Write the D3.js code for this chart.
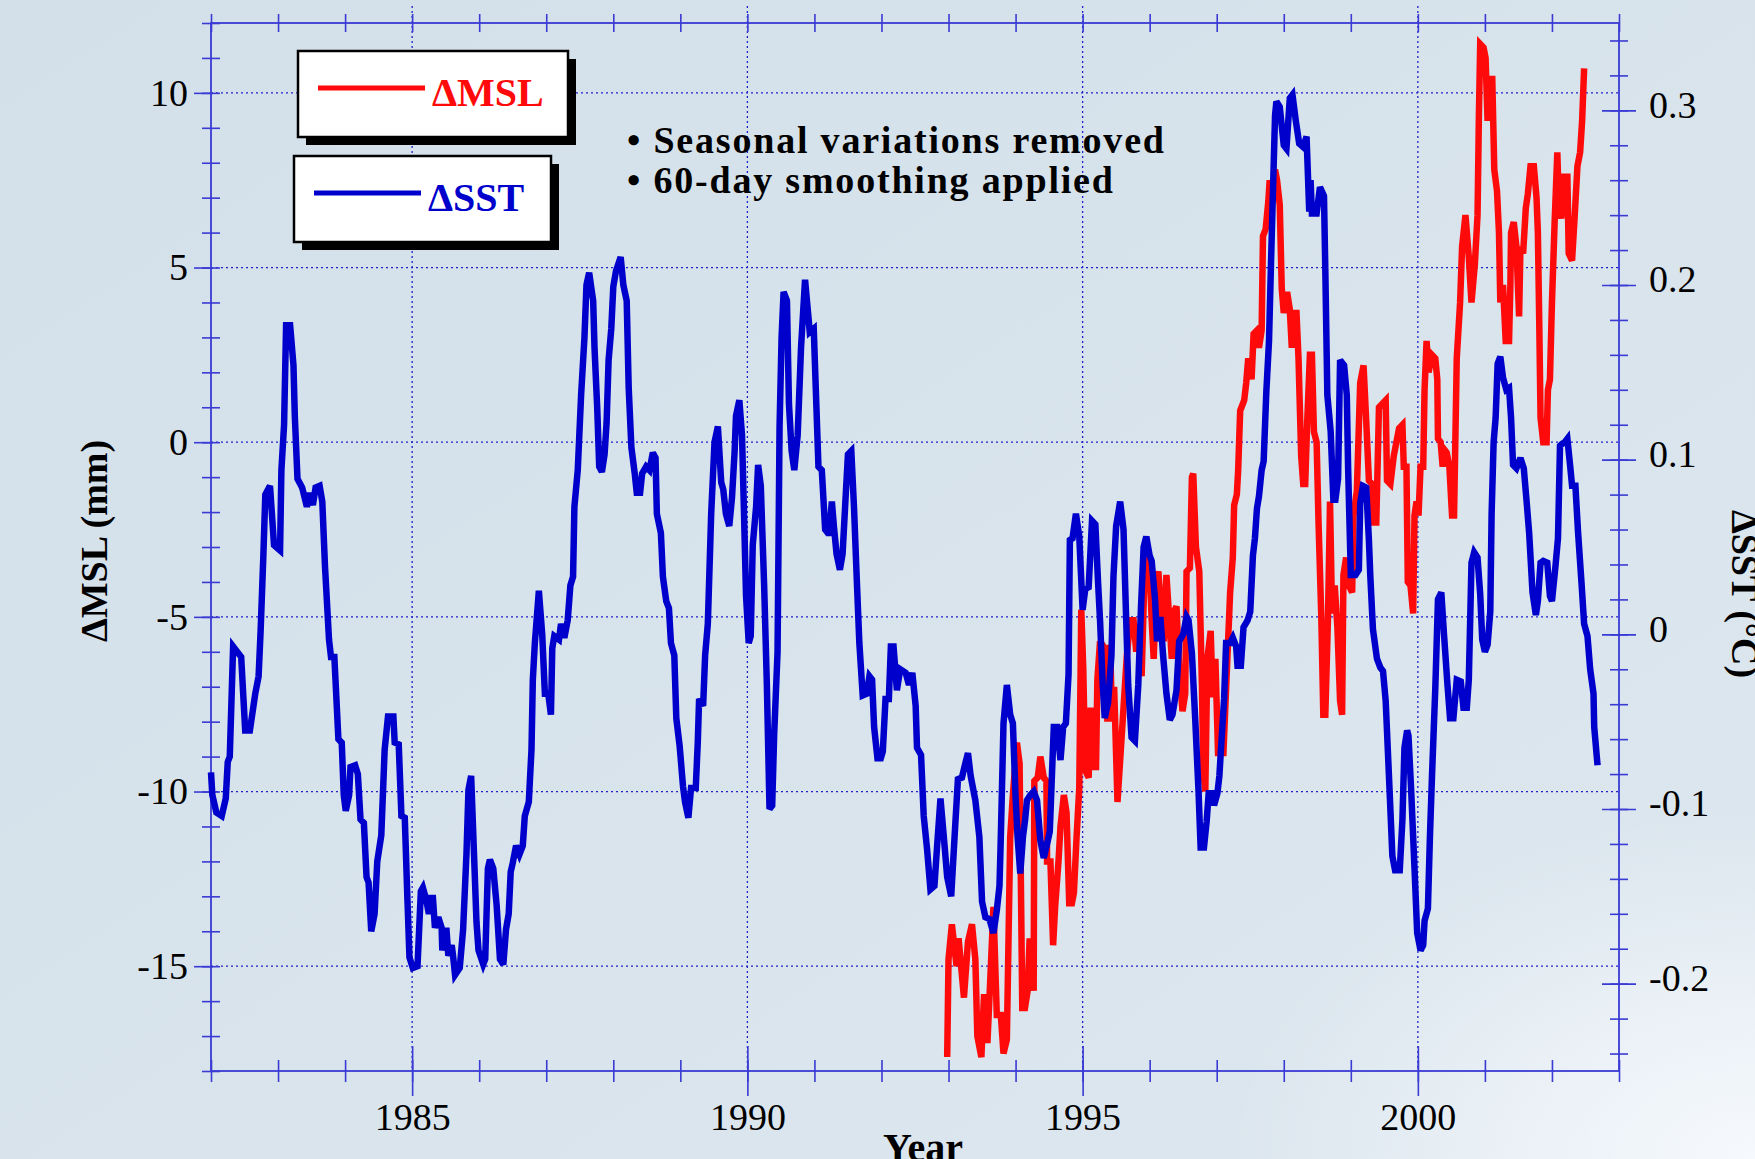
<!DOCTYPE html>
<html>
<head>
<meta charset="utf-8">
<script src="https://cdnjs.cloudflare.com/ajax/libs/d3/7.8.5/d3.min.js"></script>
<style>
	html, body { margin: 0; padding: 0; overflow: hidden; background: #d7e3eb; }
	svg { display: block; }
</style>
</head>
<body>
<div id="chart"></div>
<script>

// === Data === //

// ΔSST (°C), 60-day smoothed, seasonal cycle removed
var sstYear = [
	1982.00, 1982.02, 1982.08, 1982.16, 1982.22, 1982.25, 1982.28, 1982.33, 1982.41, 1982.45,
	1982.51, 1982.58, 1982.66, 1982.71, 1982.74, 1982.78, 1982.81, 1982.88, 1982.94, 1983.03,
	1983.05, 1983.09, 1983.12, 1983.18, 1983.23, 1983.25, 1983.29, 1983.36, 1983.43, 1983.47,
	1983.52, 1983.56, 1983.62, 1983.66, 1983.70, 1983.76, 1983.79, 1983.84, 1983.90, 1983.95,
	1983.98, 1984.01, 1984.06, 1984.08, 1984.15, 1984.19, 1984.23, 1984.28, 1984.32, 1984.35,
	1984.39, 1984.44, 1984.48, 1984.54, 1984.59, 1984.64, 1984.72, 1984.74, 1984.80, 1984.84,
	1984.89, 1984.93, 1984.96, 1985.01, 1985.08, 1985.13, 1985.16, 1985.21, 1985.25, 1985.28,
	1985.31, 1985.34, 1985.39, 1985.44, 1985.45, 1985.51, 1985.54, 1985.59, 1985.61, 1985.64,
	1985.71, 1985.76, 1985.81, 1985.84, 1985.88, 1985.92, 1985.96, 1985.99, 1986.06, 1986.09,
	1986.13, 1986.16, 1986.21, 1986.26, 1986.31, 1986.36, 1986.40, 1986.44, 1986.47, 1986.50,
	1986.55, 1986.60, 1986.65, 1986.68, 1986.74, 1986.78, 1986.80, 1986.83, 1986.89, 1986.94,
	1986.98, 1987.03, 1987.07, 1987.09, 1987.12, 1987.19, 1987.22, 1987.27, 1987.32, 1987.36,
	1987.40, 1987.42, 1987.47, 1987.52, 1987.57, 1987.60, 1987.64, 1987.70, 1987.72, 1987.76,
	1987.79, 1987.83, 1987.87, 1987.90, 1987.93, 1987.97, 1988.00, 1988.04, 1988.11, 1988.15,
	1988.20, 1988.23, 1988.27, 1988.32, 1988.35, 1988.40, 1988.43, 1988.49, 1988.54, 1988.59,
	1988.63, 1988.65, 1988.71, 1988.74, 1988.79, 1988.83, 1988.86, 1988.91, 1988.94, 1988.99,
	1989.04, 1989.07, 1989.12, 1989.16, 1989.23, 1989.26, 1989.28, 1989.34, 1989.37, 1989.41,
	1989.46, 1989.51, 1989.56, 1989.61, 1989.64, 1989.68, 1989.73, 1989.77, 1989.81, 1989.83,
	1989.88, 1989.92, 1989.95, 1989.98, 1990.02, 1990.05, 1990.08, 1990.13, 1990.16, 1990.20,
	1990.25, 1990.29, 1990.33, 1990.37, 1990.40, 1990.45, 1990.48, 1990.51, 1990.54, 1990.59,
	1990.62, 1990.66, 1990.70, 1990.75, 1990.80, 1990.86, 1990.91, 1990.93, 1990.99, 1991.02,
	1991.06, 1991.11, 1991.16, 1991.20, 1991.22, 1991.26, 1991.29, 1991.33, 1991.38, 1991.42,
	1991.47, 1991.50, 1991.55, 1991.59, 1991.63, 1991.67, 1991.72, 1991.78, 1991.82, 1991.86,
	1991.89, 1991.94, 1991.99, 1992.02, 1992.06, 1992.11, 1992.14, 1992.18, 1992.23, 1992.28,
	1992.36, 1992.41, 1992.46, 1992.51, 1992.53, 1992.59, 1992.63, 1992.68, 1992.73, 1992.79,
	1992.83, 1992.88, 1992.93, 1992.98, 1993.04, 1993.09, 1993.14, 1993.20, 1993.25, 1993.29,
	1993.33, 1993.40, 1993.46, 1993.50, 1993.55, 1993.61, 1993.67, 1993.72, 1993.76, 1993.78,
	1993.82, 1993.87, 1993.92, 1993.96, 1994.00, 1994.03, 1994.07, 1994.11, 1994.14, 1994.17,
	1994.22, 1994.27, 1994.32, 1994.37, 1994.42, 1994.47, 1994.51, 1994.54, 1994.57, 1994.62,
	1994.67, 1994.71, 1994.75, 1994.79, 1994.81, 1994.85, 1994.90, 1994.95, 1995.00, 1995.04,
	1995.09, 1995.14, 1995.19, 1995.23, 1995.26, 1995.30, 1995.33, 1995.38, 1995.43, 1995.46,
	1995.50, 1995.56, 1995.61, 1995.65, 1995.68, 1995.73, 1995.78, 1995.83, 1995.87, 1995.91,
	1995.95, 1996.00, 1996.03, 1996.08, 1996.11, 1996.16, 1996.20, 1996.25, 1996.30, 1996.34,
	1996.40, 1996.44, 1996.50, 1996.55, 1996.58, 1996.63, 1996.68, 1996.73, 1996.76, 1996.81,
	1996.85, 1996.88, 1996.94, 1996.96, 1997.01, 1997.04, 1997.06, 1997.11, 1997.14, 1997.20,
	1997.24, 1997.29, 1997.31, 1997.36, 1997.40, 1997.46, 1997.50, 1997.54, 1997.57, 1997.60,
	1997.63, 1997.67, 1997.70, 1997.74, 1997.78, 1997.81, 1997.84, 1997.87, 1997.89, 1997.94,
	1998.00, 1998.04, 1998.09, 1998.13, 1998.18, 1998.23, 1998.29, 1998.34, 1998.38, 1998.40,
	1998.42, 1998.49, 1998.54, 1998.60, 1998.62, 1998.65, 1998.70, 1998.74, 1998.77, 1998.81,
	1998.84, 1998.90, 1998.94, 1998.96, 1999.00, 1999.07, 1999.12, 1999.14, 1999.18, 1999.23,
	1999.27, 1999.29, 1999.33, 1999.39, 1999.44, 1999.48, 1999.52, 1999.57, 1999.62, 1999.66,
	1999.73, 1999.77, 1999.80, 1999.84, 1999.86, 1999.90, 1999.95, 1999.99, 2000.04, 2000.08,
	2000.10, 2000.15, 2000.18, 2000.21, 2000.26, 2000.30, 2000.35, 2000.39, 2000.44, 2000.48,
	2000.53, 2000.58, 2000.64, 2000.68, 2000.73, 2000.76, 2000.80, 2000.84, 2000.89, 2000.93,
	2000.96, 2001.00, 2001.04, 2001.08, 2001.10, 2001.13, 2001.16, 2001.19, 2001.23, 2001.27,
	2001.32, 2001.36, 2001.39, 2001.42, 2001.47, 2001.53, 2001.58, 2001.62, 2001.66, 2001.71,
	2001.76, 2001.79, 2001.83, 2001.87, 2001.93, 2001.97, 2002.00, 2002.05, 2002.09, 2002.12,
	2002.15, 2002.19, 2002.23, 2002.27, 2002.30, 2002.35, 2002.39, 2002.44, 2002.48, 2002.53,
	2002.57, 2002.62, 2002.63, 2002.68
];

var sstDelta = [
	-0.079, -0.092, -0.102, -0.104, -0.094, -0.073, -0.070, -0.007, -0.011, -0.013,
	-0.055, -0.055, -0.034, -0.024, 0.002, 0.044, 0.080, 0.085, 0.051, 0.048,
	0.094, 0.120, 0.177, 0.177, 0.154, 0.125, 0.089, 0.084, 0.073, 0.081,
	0.074, 0.084, 0.085, 0.076, 0.039, -0.003, -0.013, -0.013, -0.060, -0.062,
	-0.092, -0.101, -0.092, -0.076, -0.075, -0.080, -0.106, -0.108, -0.139, -0.142,
	-0.170, -0.160, -0.130, -0.115, -0.066, -0.047, -0.047, -0.062, -0.063, -0.104,
	-0.105, -0.152, -0.185, -0.191, -0.190, -0.147, -0.145, -0.152, -0.160, -0.151,
	-0.151, -0.168, -0.162, -0.168, -0.181, -0.168, -0.184, -0.178, -0.184, -0.195,
	-0.191, -0.169, -0.126, -0.089, -0.081, -0.123, -0.165, -0.181, -0.189, -0.186,
	-0.134, -0.129, -0.134, -0.155, -0.186, -0.189, -0.169, -0.160, -0.136, -0.131,
	-0.121, -0.126, -0.121, -0.104, -0.096, -0.066, -0.026, -0.005, 0.025, 0.000,
	-0.034, -0.034, -0.046, -0.008, -0.001, -0.003, 0.006, -0.002, 0.008, 0.028,
	0.033, 0.073, 0.094, 0.137, 0.170, 0.200, 0.207, 0.191, 0.164, 0.130,
	0.096, 0.093, 0.103, 0.121, 0.157, 0.175, 0.199, 0.208, 0.216, 0.200,
	0.191, 0.141, 0.107, 0.092, 0.081, 0.081, 0.092, 0.096, 0.094, 0.104,
	0.101, 0.069, 0.058, 0.033, 0.019, 0.015, -0.005, -0.012, -0.048, -0.064,
	-0.087, -0.096, -0.105, -0.088, -0.088, -0.062, -0.037, -0.041, -0.012, 0.006,
	0.069, 0.110, 0.119, 0.087, 0.083, 0.069, 0.062, 0.078, 0.105, 0.125,
	0.134, 0.114, 0.069, 0.022, -0.005, -0.001, 0.051, 0.073, 0.097, 0.085,
	0.028, -0.028, -0.100, -0.098, -0.057, -0.010, 0.119, 0.170, 0.196, 0.191,
	0.132, 0.105, 0.094, 0.114, 0.164, 0.203, 0.182, 0.173, 0.175, 0.141,
	0.096, 0.094, 0.060, 0.058, 0.058, 0.076, 0.062, 0.046, 0.037, 0.046,
	0.082, 0.103, 0.105, 0.073, 0.033, -0.005, -0.035, -0.034, -0.024, -0.026,
	-0.053, -0.071, -0.071, -0.067, -0.037, -0.037, -0.007, -0.007, -0.032, -0.020,
	-0.022, -0.029, -0.022, -0.041, -0.065, -0.069, -0.104, -0.123, -0.146, -0.144,
	-0.121, -0.094, -0.116, -0.139, -0.150, -0.116, -0.083, -0.082, -0.074, -0.068,
	-0.081, -0.095, -0.116, -0.153, -0.162, -0.163, -0.171, -0.158, -0.144, -0.116,
	-0.051, -0.029, -0.046, -0.051, -0.093, -0.116, -0.137, -0.116, -0.107, -0.095,
	-0.092, -0.090, -0.095, -0.118, -0.128, -0.120, -0.113, -0.083, -0.053, -0.053,
	-0.072, -0.053, -0.051, -0.023, 0.054, 0.055, 0.069, 0.056, 0.014, 0.026,
	0.027, 0.065, 0.063, 0.030, 0.008, -0.029, -0.048, -0.039, -0.012, 0.033,
	0.062, 0.076, 0.060, 0.008, -0.029, -0.059, -0.061, -0.029, 0.015, 0.050,
	0.056, 0.045, 0.042, 0.020, -0.004, 0.010, -0.012, -0.034, -0.049, -0.046,
	-0.032, -0.004, 0.000, 0.010, 0.008, -0.011, -0.049, -0.091, -0.122, -0.122,
	-0.107, -0.091, -0.091, -0.098, -0.091, -0.081, -0.068, -0.037, -0.005, -0.005,
	-0.002, -0.007, -0.018, -0.018, 0.004, 0.008, 0.013, 0.045, 0.055, 0.072,
	0.079, 0.094, 0.099, 0.139, 0.168, 0.213, 0.255, 0.297, 0.305, 0.302,
	0.280, 0.278, 0.307, 0.309, 0.294, 0.281, 0.279, 0.285, 0.242, 0.260,
	0.241, 0.241, 0.256, 0.251, 0.208, 0.137, 0.116, 0.077, 0.077, 0.089,
	0.157, 0.154, 0.137, 0.095, 0.034, 0.034, 0.037, 0.075, 0.085, 0.084,
	0.054, 0.034, 0.003, -0.014, -0.019, -0.021, -0.038, -0.082, -0.127, -0.135,
	-0.135, -0.106, -0.065, -0.055, -0.058, -0.089, -0.134, -0.171, -0.181, -0.178,
	-0.164, -0.157, -0.116, -0.082, -0.031, 0.020, 0.024, 0.000, -0.028, -0.048,
	-0.048, -0.026, -0.027, -0.042, -0.042, -0.026, 0.041, 0.047, 0.044, 0.023,
	-0.003, -0.010, -0.006, 0.013, 0.069, 0.110, 0.124, 0.155, 0.159, 0.147,
	0.140, 0.141, 0.124, 0.097, 0.095, 0.101, 0.095, 0.077, 0.058, 0.024,
	0.011, 0.019, 0.041, 0.042, 0.041, 0.022, 0.019, 0.038, 0.055, 0.108,
	0.109, 0.110, 0.112, 0.097, 0.085, 0.085, 0.058, 0.030, 0.006, -0.001,
	-0.020, -0.034, -0.053, -0.075
];

// ΔMSL (mm), altimetry record from 1993
var mslYear = [
	1992.98, 1993.00, 1993.05, 1993.12, 1993.15, 1993.23, 1993.29, 1993.35, 1993.40, 1993.43,
	1993.49, 1993.53, 1993.58, 1993.62, 1993.67, 1993.72, 1993.78, 1993.82, 1993.87, 1993.92,
	1993.96, 1994.02, 1994.06, 1994.10, 1994.14, 1994.18, 1994.21, 1994.27, 1994.28, 1994.33,
	1994.37, 1994.42, 1994.46, 1994.47, 1994.52, 1994.56, 1994.59, 1994.64, 1994.67, 1994.72,
	1994.76, 1994.80, 1994.84, 1994.87, 1994.91, 1994.95, 1994.98, 1995.01, 1995.04, 1995.09,
	1995.12, 1995.16, 1995.20, 1995.22, 1995.26, 1995.33, 1995.37, 1995.41, 1995.44, 1995.47,
	1995.52, 1995.56, 1995.61, 1995.66, 1995.71, 1995.76, 1995.80, 1995.83, 1995.88, 1995.92,
	1995.96, 1996.00, 1996.03, 1996.06, 1996.10, 1996.13, 1996.18, 1996.21, 1996.25, 1996.29,
	1996.33, 1996.35, 1996.40, 1996.44, 1996.49, 1996.53, 1996.55, 1996.60, 1996.63, 1996.65,
	1996.69, 1996.74, 1996.78, 1996.80, 1996.83, 1996.86, 1996.91, 1996.94, 1996.98, 1997.02,
	1997.10, 1997.15, 1997.20, 1997.24, 1997.26, 1997.30, 1997.32, 1997.35, 1997.39, 1997.41,
	1997.44, 1997.47, 1997.52, 1997.55, 1997.60, 1997.63, 1997.67, 1997.69, 1997.73, 1997.77,
	1997.79, 1997.83, 1997.87, 1997.90, 1997.94, 1997.97, 1998.00, 1998.05, 1998.09, 1998.12,
	1998.15, 1998.19, 1998.22, 1998.26, 1998.29, 1998.32, 1998.35, 1998.39, 1998.42, 1998.45,
	1998.49, 1998.52, 1998.56, 1998.59, 1998.62, 1998.66, 1998.69, 1998.72, 1998.76, 1998.80,
	1998.84, 1998.87, 1998.89, 1998.93, 1998.97, 1999.02, 1999.04, 1999.09, 1999.14, 1999.19,
	1999.23, 1999.27, 1999.32, 1999.34, 1999.38, 1999.42, 1999.47, 1999.52, 1999.54, 1999.59,
	1999.64, 1999.68, 1999.72, 1999.77, 1999.79, 1999.83, 1999.85, 1999.89, 1999.93, 1999.95,
	1999.98, 2000.01, 2000.04, 2000.08, 2000.10, 2000.13, 2000.16, 2000.21, 2000.26, 2000.29,
	2000.30, 2000.34, 2000.37, 2000.39, 2000.43, 2000.47, 2000.51, 2000.54, 2000.58, 2000.63,
	2000.66, 2000.71, 2000.76, 2000.80, 2000.85, 2000.89, 2000.91, 2000.93, 2000.98, 2001.01,
	2001.04, 2001.08, 2001.11, 2001.14, 2001.18, 2001.21, 2001.23, 2001.27, 2001.31, 2001.36,
	2001.38, 2001.39, 2001.43, 2001.47, 2001.51, 2001.53, 2001.57, 2001.61, 2001.64, 2001.68,
	2001.73, 2001.77, 2001.79, 2001.81, 2001.83, 2001.87, 2001.92, 2001.94, 2001.97, 2002.00,
	2002.04, 2002.08, 2002.10, 2002.14, 2002.18, 2002.23, 2002.25, 2002.30, 2002.34, 2002.38,
	2002.42, 2002.45, 2002.48
];

var mslDelta = [
	-17.6, -14.8, -13.8, -15.0, -14.2, -15.9, -14.3, -13.8, -14.8, -17.0,
	-17.6, -15.8, -17.2, -15.5, -13.3, -16.4, -16.4, -17.5, -17.1, -11.3,
	-10.1, -8.6, -9.2, -16.2, -16.2, -15.7, -14.2, -15.7, -9.7, -9.6,
	-9.0, -9.6, -9.7, -12.0, -12.0, -14.4, -13.3, -12.0, -11.0, -10.1,
	-10.6, -13.2, -13.2, -12.9, -11.3, -9.9, -4.8, -6.5, -9.4, -9.6,
	-7.6, -9.3, -9.3, -6.8, -5.7, -5.9, -8.0, -5.8, -8.0, -7.0,
	-10.3, -9.1, -7.6, -6.1, -5.1, -5.1, -6.0, -5.2, -6.7, -4.0,
	-3.0, -3.6, -5.1, -6.2, -4.0, -3.7, -5.2, -5.7, -3.8, -5.0,
	-6.2, -4.9, -4.7, -6.5, -7.7, -7.2, -3.7, -3.6, -1.0, -0.9,
	-3.0, -3.7, -7.0, -9.4, -10.0, -6.2, -5.4, -7.3, -6.2, -8.9,
	-8.9, -6.6, -4.3, -3.3, -1.8, -1.5, -0.8, 0.9, 1.1, 1.2,
	1.7, 2.4, 1.8, 3.1, 3.2, 2.7, 3.2, 5.9, 6.1, 6.9,
	7.5, 7.1, 7.8, 7.5, 6.8, 4.4, 3.7, 4.3, 3.8, 2.7,
	3.7, 3.7, 2.4, -0.4, -1.2, -1.2, 0.6, 2.5, 2.5, 0.3,
	0.0, -2.4, -5.0, -7.8, -7.8, -5.0, -1.7, -4.9, -4.1, -5.3,
	-7.4, -7.8, -3.8, -3.3, -4.1, -4.3, -2.1, -1.4, 1.7, 2.2,
	0.6, -1.1, -1.2, -2.3, -2.3, 1.0, 1.1, 1.2, -1.1, -1.2,
	-0.4, 0.0, 0.4, 0.5, -0.7, -0.7, -4.0, -4.1, -4.9, -2.1,
	-1.7, -2.1, -0.7, -0.7, 1.5, 2.9, 2.0, 2.5, 2.4, 1.8,
	0.1, 0.0, -0.7, -0.2, -0.3, -0.7, -2.1, -2.1, 2.4, 4.0,
	5.6, 6.5, 5.3, 4.0, 5.1, 6.5, 9.3, 11.4, 11.3, 11.0,
	9.2, 10.4, 10.4, 7.8, 7.2, 6.0, 4.0, 4.5, 2.9, 2.9,
	4.5, 6.0, 6.3, 5.6, 3.6, 5.6, 5.4, 6.7, 7.1, 7.9,
	7.9, 7.0, 6.0, 3.5, 0.7, 0.0, 0.0, 1.5, 1.8, 4.0,
	6.3, 8.3, 7.0, 6.4, 7.6, 7.6, 5.4, 5.2, 6.5, 7.9,
	8.3, 9.2, 10.7
];

var yearTicks = [1985, 1990, 1995, 2000];
var mslTicks = [-15, -10, -5, 0, 5, 10];
var sstTicks = [-0.2, -0.1, 0, 0.1, 0.2, 0.3];

var legendNames = ['ΔMSL', 'ΔSST'];
var notes = ['• Seasonal variations removed', '• 60-day smoothing applied'];


// === Globals === //

var width = 1755, height = 1159;
var plot = { left: 211, right: 1619, top: 23, bottom: 1071 };

var serif = '"Liberation Serif", "Times New Roman", Times, serif';
var axisBlue = '#3a3ad4';
var gridBlue = '#2020c8';
var mslRed = '#ff0a0a';
var sstBlue = '#0000cc';

var x = d3.scaleLinear().domain([1982, 2003]).range([plot.left, plot.right]);
var yMsl = d3.scaleLinear().domain([-18, 12]).range([plot.bottom, plot.top]);
var ySst = d3.scaleLinear().domain([-0.25, 0.35]).range([plot.bottom, plot.top]);

var svg = d3.select('#chart').append('svg')
	.attr('width', width)
	.attr('height', height);


// === Background === //

var defs = svg.append('defs');

var bg = defs.append('linearGradient').attr('id', 'bg')
	.attr('x1', 0).attr('y1', 0).attr('x2', 1).attr('y2', 1);
bg.append('stop').attr('offset', '0%').attr('stop-color', '#d3e0e9');
bg.append('stop').attr('offset', '100%').attr('stop-color', '#dde7ef');

var glow = defs.append('radialGradient').attr('id', 'glow')
	.attr('cx', 1).attr('cy', 1).attr('r', 0.3);
glow.append('stop').attr('offset', '0%').attr('stop-color', '#f6f9fd').attr('stop-opacity', 1);
glow.append('stop').attr('offset', '100%').attr('stop-color', '#f6f9fd').attr('stop-opacity', 0);

svg.append('rect').attr('width', width).attr('height', height).attr('fill', 'url(#bg)');
svg.append('rect').attr('width', width).attr('height', height).attr('fill', 'url(#glow)');


// === Grid === //

var grid = svg.append('g')
	.attr('stroke', gridBlue)
	.attr('stroke-width', 1.3)
	.attr('stroke-dasharray', '2,3');

grid.selectAll('line.h')
	.data(mslTicks)
	.join('line')
	.attr('class', 'h')
	.attr('x1', plot.left).attr('x2', plot.right)
	.attr('y1', function(d) { return yMsl(d); })
	.attr('y2', function(d) { return yMsl(d); });

grid.selectAll('line.v')
	.data(yearTicks)
	.join('line')
	.attr('class', 'v')
	.attr('x1', function(d) { return x(d); })
	.attr('x2', function(d) { return x(d); })
	.attr('y1', plot.top - 17).attr('y2', plot.bottom);


// === Axes === //

function tickAxis(axis, transform, inner, outer, vertical, labelled) {

	var g = svg.append('g')
		.attr('transform', transform)
		.call(axis);

	g.select('.domain').remove();

	var lines = g.selectAll('.tick line')
		.attr('stroke', axisBlue)
		.attr('stroke-width', 1.6);

	if (vertical) lines.attr('x1', inner).attr('x2', outer);
	else lines.attr('y1', inner).attr('y2', outer);

	if (labelled) {
		g.selectAll('.tick text')
			.attr('fill', '#000')
			.style('font-family', serif)
			.style('font-size', '38px');
	} else {
		g.selectAll('.tick text').remove();
	}

	return g;

} // tickAxis()

var minorYears = d3.range(1982, 2004);
var minorMsl = d3.range(-18, 13);
var minorSst = d3.range(-12, 18).map(function(i) { return i * 0.02; });

// left (mm)
tickAxis(d3.axisLeft(yMsl).tickValues(minorMsl).tickSize(9), 'translate(' + plot.left + ',0)', 9, -9, true, false);
tickAxis(d3.axisLeft(yMsl).tickValues(mslTicks).tickSize(17).tickPadding(6).tickFormat(String),
	'translate(' + plot.left + ',0)', 2, -17, true, true);

// right (°C)
tickAxis(d3.axisRight(ySst).tickValues(minorSst).tickSize(9), 'translate(' + plot.right + ',0)', -9, 9, true, false);
tickAxis(d3.axisRight(ySst).tickValues(sstTicks).tickSize(17).tickPadding(13).tickFormat(String),
	'translate(' + plot.right + ',0)', -17, 17, true, true)
	.selectAll('.tick text').attr('dy', '0.18em');

// bottom (years)
tickAxis(d3.axisBottom(x).tickValues(minorYears).tickSize(11), 'translate(0,' + plot.bottom + ')', -11, 11, false, false);
tickAxis(d3.axisBottom(x).tickValues(yearTicks).tickSize(25).tickPadding(7).tickFormat(String),
	'translate(0,' + plot.bottom + ')', -25, 25, false, true);

// top
tickAxis(d3.axisTop(x).tickValues(minorYears).tickSize(9), 'translate(0,' + plot.top + ')', 9, -9, false, false);

// frame
svg.append('rect')
	.attr('x', plot.left).attr('y', plot.top)
	.attr('width', plot.right - plot.left)
	.attr('height', plot.bottom - plot.top)
	.attr('fill', 'none')
	.attr('stroke', axisBlue)
	.attr('stroke-width', 1.8);


// === Series === //

var line = d3.line()
	.x(function(d) { return x(d[0]); });

svg.append('path')
	.datum(d3.zip(mslYear, mslDelta))
	.attr('fill', 'none')
	.attr('stroke', mslRed)
	.attr('stroke-width', 6.5)
	.attr('stroke-miterlimit', 3)
	.attr('d', line.y(function(d) { return yMsl(d[1]); }));

svg.append('path')
	.datum(d3.zip(sstYear, sstDelta))
	.attr('fill', 'none')
	.attr('stroke', sstBlue)
	.attr('stroke-width', 6.5)
	.attr('stroke-miterlimit', 3)
	.attr('d', line.y(function(d) { return ySst(d[1]); }));


// === Legend === //

var legendBoxes = [
	{ x: 298, y: 51, w: 270, h: 86, colour: mslRed },
	{ x: 294, y: 156, w: 257, h: 86, colour: sstBlue }
];

var legend = svg.selectAll('g.legend')
	.data(legendBoxes)
	.join('g')
	.attr('class', 'legend')
	.attr('transform', function(d) { return 'translate(' + d.x + ',' + d.y + ')'; });

legend.append('rect')
	.attr('x', 8).attr('y', 8)
	.attr('width', function(d) { return d.w; })
	.attr('height', function(d) { return d.h; })
	.attr('fill', '#000');

legend.append('rect')
	.attr('width', function(d) { return d.w; })
	.attr('height', function(d) { return d.h; })
	.attr('fill', '#fff')
	.attr('stroke', '#000')
	.attr('stroke-width', 2.5);

legend.append('line')
	.attr('x1', 20).attr('x2', 127)
	.attr('y1', 37).attr('y2', 37)
	.attr('stroke', function(d) { return d.colour; })
	.attr('stroke-width', 5);

legend.append('text')
	.attr('x', 134).attr('y', 55)
	.attr('fill', function(d) { return d.colour; })
	.style('font-family', serif)
	.style('font-weight', 'bold')
	.style('font-size', '40px')
	.text(function(d, i) { return legendNames[i]; });


// === Notes and titles === //

svg.selectAll('text.note')
	.data(notes)
	.join('text')
	.attr('class', 'note')
	.attr('x', 627)
	.attr('y', function(d, i) { return 153 + i * 40; })
	.style('font-family', serif)
	.style('font-weight', 'bold')
	.style('font-size', '38px')
	.style('letter-spacing', '1.8px')
	.text(function(d) { return d; });

svg.append('text')
	.attr('transform', 'translate(107,541) rotate(-90)')
	.attr('text-anchor', 'middle')
	.style('font-family', serif)
	.style('font-weight', 'bold')
	.style('font-size', '38px')
	.text('ΔMSL (mm)');

svg.append('text')
	.attr('transform', 'translate(1732,594) rotate(90)')
	.attr('text-anchor', 'middle')
	.style('font-family', serif)
	.style('font-weight', 'bold')
	.style('font-size', '38px')
	.text('ΔSST (°C)');

svg.append('text')
	.attr('x', 923).attr('y', 1161)
	.attr('text-anchor', 'middle')
	.style('font-family', serif)
	.style('font-weight', 'bold')
	.style('font-size', '40px')
	.text('Year');

</script>
</body>
</html>
